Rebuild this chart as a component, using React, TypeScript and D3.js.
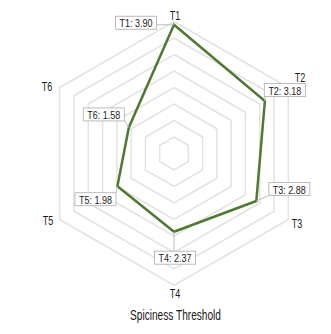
import React from "react";
import * as d3 from "d3";

const categories = ["T1", "T2", "T3", "T4", "T5", "T6"];
const values = [3.9, 3.18, 2.88, 2.37, 1.98, 1.58];
const gridLevels = [0.5, 1, 1.5, 2, 2.5, 3, 3.5, 4];
const title = "Spiciness Threshold";

// layout (label box offsets from point)
const labelOffsets: [number, number][] = [
  [-38, -2],
  [20, -11],
  [33, -12],
  [1, 26],
  [-22, 13],
  [-25, -13],
];
const axisLabelPos: [number, number][] = [
  [1, -137.5],
  [126, -75.5],
  [123, 70],
  [1, 140],
  [-126, 67],
  [-127, -67],
];

const W = 331, H = 334;
const cx = 174, cy = 153.5, R = 132;
const FONT = "'Liberation Sans', Arial, sans-serif";

export default function App() {
  const r = d3.scaleLinear().domain([0, 4]).range([0, R]);
  const angle = (i: number) => -Math.PI / 2 + (i * 2 * Math.PI) / categories.length;
  const pt = (i: number, v: number): [number, number] => [
    cx + r(v) * Math.cos(angle(i)),
    cy + r(v) * Math.sin(angle(i)),
  ];
  const line = d3.line<[number, number]>().curve(d3.curveLinearClosed);
  const pts = values.map((v, i) => pt(i, v));

  return (
    <svg width={W} height={H} style={{ position: "absolute", left: 0, top: 0, background: "#fff" }}>
      {gridLevels.map((lv) => (
        <path
          key={lv}
          d={line(categories.map((_, i) => pt(i, lv))) || ""}
          fill="none"
          stroke="#e2e2e2"
          strokeWidth={1.5}
        />
      ))}
      <path d={line(pts) || ""} fill="none" stroke="#4d7a2c" strokeWidth={2.5} strokeLinejoin="miter" />
      {categories.map((c, i) => (
        <text
          key={c}
          x={cx + axisLabelPos[i][0]}
          y={cy + axisLabelPos[i][1]}
          textAnchor="middle"
          dominantBaseline="central"
          fontFamily={FONT}
          fontSize={12.5}
          textLength={10.5}
          lengthAdjust="spacingAndGlyphs"
          fill="#1a1a1a"
        >
          {c}
        </text>
      ))}
      {values.map((v, i) => {
        const [px, py] = pts[i];
        const bx = px + labelOffsets[i][0];
        const by = py + labelOffsets[i][1];
        const text = `${categories[i]}: ${v.toFixed(2)}`;
        const bw = 41, bh = 13;
        const ex = Math.max(bx - bw / 2, Math.min(bx + bw / 2, px));
        const ey = Math.max(by - bh / 2, Math.min(by + bh / 2, py));
        return (
          <g key={i}>
            <line x1={ex} y1={ey} x2={px} y2={py} stroke="#bbb" strokeWidth={1} />
            <rect x={bx - bw / 2} y={by - bh / 2} width={bw} height={bh} fill="#fff" stroke="#bbb" strokeWidth={1} />
            <text
              x={bx}
              y={by + 0.5}
              textAnchor="middle"
              dominantBaseline="central"
              fontFamily={FONT}
              fontSize={10.5}
              textLength={33}
              lengthAdjust="spacingAndGlyphs"
              fill="#1a1a1a"
            >
              {text}
            </text>
          </g>
        );
      })}
      <text
        x={cx + 1.5}
        y={315}
        textAnchor="middle"
        dominantBaseline="central"
        fontFamily={FONT}
        fontSize={14}
        textLength={91}
        lengthAdjust="spacingAndGlyphs"
        fill="#1a1a1a"
      >
        {title}
      </text>
    </svg>
  );
}
